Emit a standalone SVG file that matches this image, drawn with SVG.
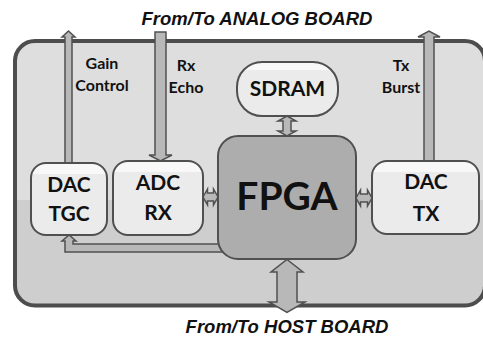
<svg xmlns="http://www.w3.org/2000/svg" width="483" height="338" viewBox="0 0 483 338">
  <defs>
    <!-- two-tone board fill -->
    <linearGradient id="boardFill" gradientUnits="userSpaceOnUse" x1="0" y1="41" x2="0" y2="306">
      <stop offset="0" stop-color="#dedede"/>
      <stop offset="0.6" stop-color="#dedede"/>
      <stop offset="0.6" stop-color="#cecece"/>
      <stop offset="1" stop-color="#cecece"/>
    </linearGradient>
    <!-- glossy block fill -->
    <linearGradient id="blockFill" x1="0" y1="0" x2="0" y2="1">
      <stop offset="0" stop-color="#f8f8f8"/>
      <stop offset="0.15" stop-color="#f8f8f8"/>
      <stop offset="0.15" stop-color="#ebebeb"/>
      <stop offset="1" stop-color="#ebebeb"/>
    </linearGradient>
  </defs>
  <style>
    .board { fill: url(#boardFill); stroke: #4d4d4d; stroke-width: 4; }
    .block { fill: url(#blockFill); stroke: #505050; stroke-width: 2; }
    .fpga { fill: #adadad; stroke: #505050; stroke-width: 2; }
    .arrow { fill: #b8b8b8; stroke: #505050; stroke-width: 1.5; stroke-linejoin: miter; }
    .lbl { font-family: Lato, "Open Sans", sans-serif; font-weight: bold; fill: #111; text-anchor: middle; }
    .sig { font-size: 16px; }
    .blk { font-size: 21px; }
    .big { font-size: 39px; }
    .title { font-family: "Liberation Sans", Arial, sans-serif; font-weight: bold; font-style: italic; font-size: 18.5px; fill: #111; text-anchor: middle; }
  </style>

  <!-- board outline -->
  <rect class="board" x="15" y="41" width="470" height="264.5" rx="20" ry="20"/>

  <text class="title" x="257" y="25">From/To ANALOG BOARD</text>
  <text class="title" x="287" y="333">From/To HOST BOARD</text>

  <!-- signal labels -->
  <g id="labels">
    <text class="lbl sig" x="102" y="69">Gain</text>
    <text class="lbl sig" x="102" y="91">Control</text>
    <text class="lbl sig" x="186" y="71">Rx</text>
    <text class="lbl sig" x="186" y="93">Echo</text>
    <text class="lbl sig" x="401" y="71">Tx</text>
    <text class="lbl sig" x="401" y="93">Burst</text>
  </g>

  <!-- connectors -->
  <g id="connectors">
    <!-- gain control up to analog board -->
    <path class="arrow" d="M65,163 L65,37 L62,37 L68.5,31 L75,37 L72,37 L72,163 Z"/>
    <!-- rx echo down into ADC -->
    <path class="arrow" d="M155,32 L166,32 L166,155 L172,155 L160.5,161 L149,155 L155,155 Z"/>
    <!-- tx burst up to analog board -->
    <path class="arrow" d="M424,161 L424,37 L418,37 L429,31 L440,37 L434,37 L434,161 Z"/>
    <!-- SDRAM <-> FPGA -->
    <path class="arrow" d="M287,116 L296,121 L291,121 L291,131 L296,131 L287,136 L278,131 L283,131 L283,121 L278,121 Z"/>
    <!-- ADC <-> FPGA -->
    <path class="arrow" d="M203,197 L207.5,189 L207.5,193 L213.5,193 L213.5,189 L218,197 L213.5,205 L213.5,201 L207.5,201 L207.5,205 Z"/>
    <!-- FPGA <-> DAC TX -->
    <path class="arrow" d="M356,198 L360.5,190 L360.5,194 L367.5,194 L367.5,190 L372,198 L367.5,206 L367.5,202 L360.5,202 L360.5,206 Z"/>
    <!-- FPGA to DAC TGC -->
    <path class="arrow" d="M222,244 L73,244 L73,241 L76,241 L69,235 L62,241 L65,241 L65,252 L222,252 Z"/>
    <!-- FPGA <-> host board -->
    <path class="arrow" d="M287,259.5 L303,272 L297,272 L297,302 L305,302 L287,312.5 L269,302 L277,302 L277,272 L271,272 Z"/>
  </g>

  <g id="dac-tgc">
    <rect class="block" x="31" y="163" width="76" height="72" rx="15" ry="15"/>
    <text class="lbl blk" x="69" y="192">DAC</text>
    <text class="lbl blk" x="69" y="221">TGC</text>
  </g>

  <g id="adc-rx">
    <rect class="block" x="113" y="161" width="90" height="74" rx="15" ry="15"/>
    <text class="lbl blk" x="158" y="190">ADC</text>
    <text class="lbl blk" x="158" y="220">RX</text>
  </g>

  <g id="sdram">
    <rect class="block" x="237" y="62" width="101" height="54" rx="25" ry="25"/>
    <text class="lbl blk" x="287.5" y="96">SDRAM</text>
  </g>

  <g id="fpga">
    <rect class="fpga" x="218" y="136" width="138" height="123" rx="20" ry="20"/>
    <text class="lbl big" x="287" y="210">FPGA</text>
  </g>

  <g id="dac-tx">
    <rect class="block" x="372" y="161" width="107" height="73" rx="15" ry="15"/>
    <text class="lbl blk" x="426" y="189">DAC</text>
    <text class="lbl blk" x="426" y="221">TX</text>
  </g>
</svg>
